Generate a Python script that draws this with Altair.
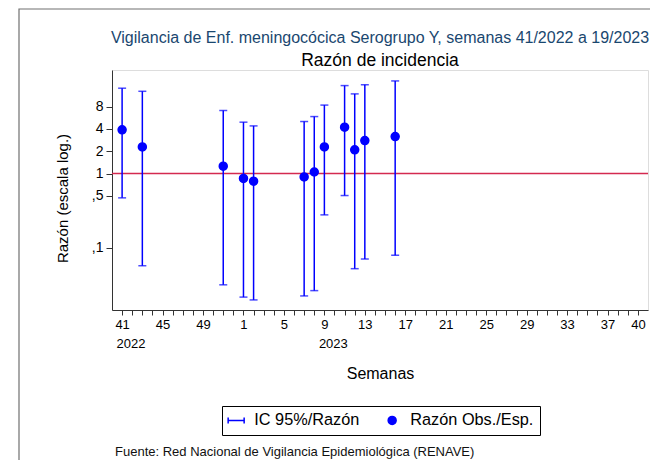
import altair as alt
import pandas as pd

# ---- data (week index: 0 = semana 41/2022, 12 = semana 1/2023, 51 = semana 40/2023)
semana_idx = [0, 2, 10, 12, 13, 18, 19, 20, 22, 23, 24, 27]
razon = [3.89, 2.29, 1.26, 0.86, 0.79, 0.90, 1.05, 2.29, 4.23, 2.09, 2.79, 3.16]
ic_inf = [0.47, 0.057, 0.0315, 0.0215, 0.0197, 0.0223, 0.0263, 0.277, 0.505, 0.052, 0.070, 0.079]
ic_sup = [14.2, 12.9, 7.1, 4.94, 4.4, 5.04, 5.88, 8.4, 15.4, 11.9, 15.8, 17.8]

x_ticks = list(range(0, 52))
x_label_pos = [0, 4, 8, 12, 16, 20, 24, 28, 32, 36, 40, 44, 48, 51]
x_label_txt = ["41", "45", "49", "1", "5", "9", "13", "17", "21", "25", "29", "33", "37", "40"]
year_pos = [0, 20]
year_txt = ["2022", "2023"]
y_ticks = [0.1, 0.5, 1, 2, 4, 8]
y_labels = [",1", ",5", "1", "2", "4", "8"]
ref_value = [1]
leyenda = ["IC 95%/Razón", "Razón Obs./Esp."]
fuente = ["Fuente: Red Nacional de Vigilancia Epidemiológica (RENAVE)"]

df = pd.DataFrame({"t": semana_idx, "razon": razon, "lo": ic_inf, "hi": ic_sup,
                   "tipo": [leyenda[1]] * len(semana_idx)})

FONT = "Liberation Sans"
BLUE = "#0000ff"
W, H = 536, 240

def js_list(v):
    return "[" + ",".join(repr(x) if not isinstance(x, str) else "'" + x + "'" for x in v) + "]"

def lookup_expr(pos, txt):
    return ("indexof(%s, datum.value) >= 0 ? %s[indexof(%s, datum.value)] : ''"
            % (js_list(pos), js_list(txt), js_list(pos)))

x_expr = lookup_expr(x_label_pos, x_label_txt)
yr_expr = lookup_expr(year_pos, year_txt)
y_expr = lookup_expr(y_ticks, y_labels)

xscale = alt.Scale(domain=[-1, 52], nice=False, zero=False)
yscale = alt.Scale(type="log", domain=[0.0144, 25], nice=False)

main_x_axis = alt.Axis(values=x_ticks, labelExpr=x_expr, labelOverlap=False, tickSize=5,
                       grid=False, labelFontSize=13, labelPadding=3, title="Semanas",
                       titleFontSize=16, titleFontWeight="normal", titleBaseline="alphabetic",
                       titleY=68, orient="bottom", domainColor="#333333", tickColor="#333333",
                       labelColor="black", titleColor="black", labelFont=FONT, titleFont=FONT)
year_axis = alt.Axis(values=year_pos, labelExpr=yr_expr, ticks=False, domain=False, grid=False,
                     labelFontSize=13, labelPadding=33, labelAlign="left", translate=-5.5,
                     title=None, orient="bottom", labelColor="black", labelFont=FONT)
y_axis = alt.Axis(values=y_ticks, labelExpr=y_expr, tickSize=6, labelFontSize=14, grid=False,
                  labelPadding=3, title="Razón (escala log.)", titleFontSize=15,
                  titleFontWeight="normal", titlePadding=21, titleY=128, domainColor="#333333",
                  tickColor="#333333", labelColor="black", titleColor="black",
                  labelFont=FONT, titleFont=FONT, orient="left")

frame = alt.Chart(pd.DataFrame({"a": [0]})).mark_rect(
    fillOpacity=0, stroke="#707070", strokeWidth=1.2
).encode(x=alt.value(-93), x2=alt.value(800), y=alt.value(-61), y2=alt.value(800))

ref = alt.Chart(pd.DataFrame({"v": ref_value})).mark_rule(
    color="#d42a50", strokeWidth=1.5
).encode(y=alt.Y("v:Q", scale=yscale, axis=y_axis))

bars = alt.Chart(df).mark_rule(color=BLUE, strokeWidth=1.5).encode(
    x=alt.X("t:Q", scale=xscale, axis=main_x_axis),
    y=alt.Y("lo:Q", scale=yscale, axis=y_axis),
    y2="hi:Q",
)
cap_lo = alt.Chart(df).mark_tick(color=BLUE, orient="horizontal", size=8, thickness=1.5).encode(
    x=alt.X("t:Q", scale=xscale, axis=year_axis),
    y=alt.Y("lo:Q", scale=yscale, axis=y_axis),
)
cap_hi = alt.Chart(df).mark_tick(color=BLUE, orient="horizontal", size=8, thickness=1.5).encode(
    x=alt.X("t:Q", scale=xscale, axis=None),
    y=alt.Y("hi:Q", scale=yscale, axis=y_axis),
)
errpath = "M-2,0H2M-2,-0.75V0.75M2,-0.75V0.75"
points = alt.Chart(df).mark_point(
    fill=BLUE, stroke=BLUE, strokeWidth=1.5, fillOpacity=1, opacity=1, size=64
).encode(
    x=alt.X("t:Q", scale=xscale, axis=None),
    y=alt.Y("razon:Q", scale=yscale, axis=y_axis),
    shape=alt.Shape("tipo:N", scale=alt.Scale(domain=leyenda, range=[errpath, "circle"]),
                    legend=alt.Legend(orient="none", legendX=110, legendY=336,
                                      direction="horizontal", columns=2, title=None,
                                      strokeColor="black", padding=6, labelFontSize=16.3,
                                      labelFont=FONT, labelColor="black", symbolSize=64,
                                      columnPadding=24, labelOffset=10, symbolOffset=0,
                                      symbolStrokeWidth=1.5)),
)
src = alt.Chart(pd.DataFrame({"f": fuente})).mark_text(
    align="left", baseline="middle", fontSize=13, font=FONT, color="#111111"
).encode(text="f:N", x=alt.value(3), y=alt.value(382))

chart = alt.layer(frame, ref, bars, cap_lo, cap_hi, points, src).resolve_axis(
    x="independent", y="shared"
).properties(
    width=W, height=H,
    autosize=alt.AutoSizeParams(type="none"),
    padding={"left": 104, "top": 62, "right": 2, "bottom": 150},
    title=alt.TitleParams(
        text="Vigilancia de Enf. meningocócica Serogrupo Y, semanas 41/2022 a 19/2023",
        subtitle="Razón de incidencia", fontSize=16, color="#1a476f", font=FONT,
        fontWeight="normal", subtitleFontSize=17.5, subtitleColor="black",
        subtitleFont=FONT, anchor="middle", frame="group", offset=-61, subtitlePadding=6),
).configure_view(stroke=None).configure_axis(grid=False).configure(background="white")

chart.save("out.html", embed_options={"renderer": "svg", "actions": False})
